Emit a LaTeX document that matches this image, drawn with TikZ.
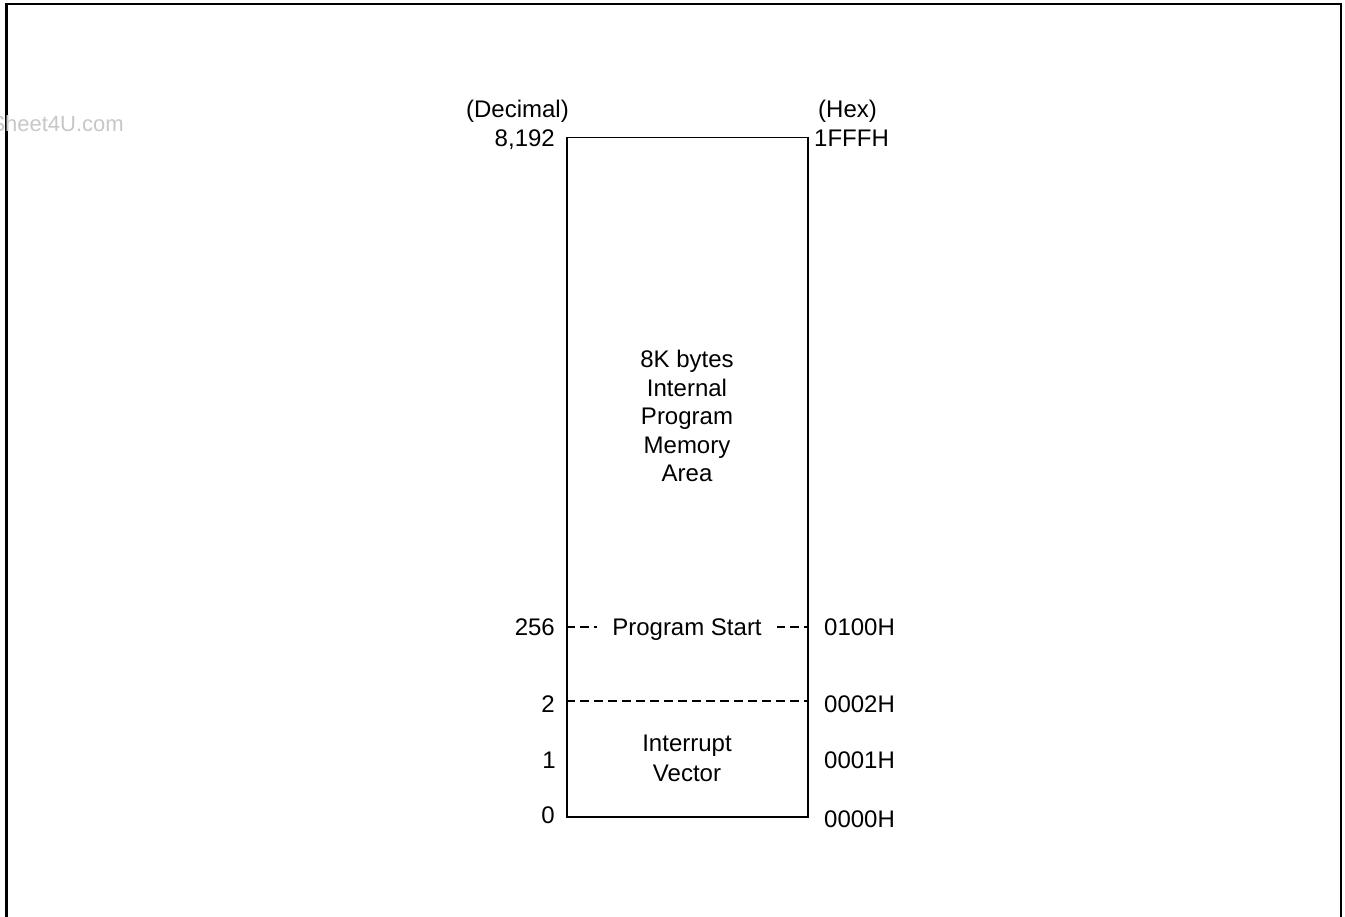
\documentclass[tikz,border=0pt]{standalone}
\usepackage{fontspec}
\setmainfont{Liberation Sans}
\usetikzlibrary{positioning}

\begin{document}
\begin{tikzpicture}[
    x=1pt, y=-1pt,
    lbl/.style={inner sep=0pt, font=\fontsize{24}{28.5}\selectfont},
    declbl/.style={lbl, anchor=base east},
    hexlbl/.style={lbl, anchor=base west},
    arealbl/.style={lbl, align=center},
    memline/.style={line width=1.5pt},
    divline/.style={line width=1.5pt, dash pattern=on 9pt off 5pt},
    framebox/.style={line width=2.5pt}
]
\useasboundingbox (0,0) rectangle (1345,917);

% ---------- Frame ----------
\draw[framebox] (6.5,917) -- (6.5,4) -- (1341,4) -- (1341,917);
\node[lbl, font=\fontsize{22}{26}\selectfont, text=black!22, anchor=base east] (wmark) at (124,132) {Sheet4U.com};

% ---------- Memory block ----------
\node[draw, memline, inner sep=0pt, minimum width=241pt, minimum height=679pt, anchor=north west] (mem) at (566,137) {};

\node[arealbl] (mainarea) at (687,416) {8K bytes\\Internal\\Program\\Memory\\Area};
\node[arealbl, font=\fontsize{24}{30}\selectfont] (intvec) at (687,758) {Interrupt\\Vector};

% ---------- Dividers ----------
\coordinate (pstart) at (687,627);
\coordinate (vecend) at (687,701);
\draw[divline] (mem.west |- pstart) -- (mem.east |- pstart);
\draw[divline] (mem.west |- vecend) -- (mem.east |- vecend);
\node[lbl, anchor=base, fill=white, inner xsep=15pt, inner ysep=3pt] (pstartlbl) at (687,635) {Program Start};

% ---------- Address labels ----------
\node[declbl] (decimal) at (569,118) {(Decimal)};
\node[hexlbl] (hex) at (818,118) {(Hex)};

\node[declbl] (d8192) at (555,147) {8,192};
\node[hexlbl] (h1fff) at (814,147) {1FFFH};
\node[declbl] (d256) at (555,635) {256};
\node[hexlbl] (h0100) at (824,635) {0100H};
\node[declbl] (d2) at (555,712) {2};
\node[hexlbl] (h0002) at (824,712) {0002H};
\node[declbl] (d1) at (556,768) {1};
\node[hexlbl] (h0001) at (824,768) {0001H};
\node[declbl] (d0) at (555,823) {0};
\node[hexlbl] (h0000) at (824,827) {0000H};

\end{tikzpicture}
\end{document}
